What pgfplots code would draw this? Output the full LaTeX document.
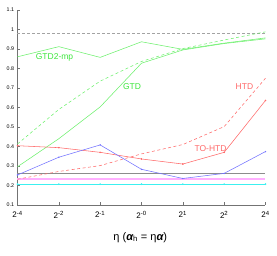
\documentclass[border=0pt]{standalone}
\usepackage{fontspec}
\setmainfont{Liberation Sans}
\usepackage{pgfplots}
\pgfplotsset{compat=1.18}
\definecolor{cgreen}{RGB}{110,240,110}
\definecolor{ctgreen}{RGB}{60,230,60}
\definecolor{cred}{RGB}{255,105,105}
\definecolor{cblue}{RGB}{115,115,255}
\definecolor{cpink}{RGB}{255,175,255}
\definecolor{ccyan}{RGB}{60,240,240}
\definecolor{cgrey}{RGB}{140,140,140}
\begin{document}
\begin{tikzpicture}
\path[use as bounding box] (-17.5pt,-51pt) rectangle (259.5pt,205pt);
\begin{axis}[
  at={(0,0)}, anchor=south west,
  scale only axis, width=248pt, height=195pt,
  xmin=0, xmax=6, ymin=0.1, ymax=1.1,
  axis x line*=bottom, axis y line*=left,
  axis line style={-, draw=gray!90!black, line width=0.5pt},
  tick align=inside,
  major tick length=2.5pt,
  tick style={gray!90!black, line width=0.4pt},
  xtick={0,1,2,3,4,5,6},
  xticklabels={2\textsuperscript{-4},2\textsuperscript{-2},2\textsuperscript{-1},2\textsuperscript{-0},2\textsuperscript{1},2\textsuperscript{2},2\textsuperscript{4}},
  xticklabel style={font=\fontsize{8}{9}\selectfont, yshift=-2.5pt},
  ytick={0.1,0.2,0.3,0.4,0.5,0.6,0.7,0.8,0.9,1,1.1},
  yticklabels={0.1,0.2,0.3,0.4,0.5,0.6,0.7,0.8,0.9,1,1.1},
  yticklabel style={font=\fontsize{5.3}{6}\selectfont, xshift=0pt},
  /pgf/number format/assume math mode=true,
  xlabel={η ({\bfseries\itshape α}$_{\mathrm{h}}$ = η{\bfseries\itshape α})},
  xlabel style={font=\fontsize{11}{12}\selectfont, at={(axis description cs:0.495,-0.165)}, anchor=center},
  clip=false,
  every axis plot/.append style={line width=0.55pt},
]
% reference lines
\addplot[cgrey!80, dashed, dash pattern=on 3pt off 2pt] coordinates {(0,0.98) (6,0.98)};
\addplot[cgrey] coordinates {(0,0.262) (6,0.262)};
\addplot[cpink, line width=1.6pt] coordinates {(0,0.233) (6,0.233)};
\addplot[ccyan, mark=*, mark size=0.5pt] coordinates {(0,0.207) (1,0.207) (2,0.207) (3,0.207) (4,0.207) (5,0.207) (6,0.207)};
% GTD2-mp
\addplot[cgreen] coordinates {(0,0.86) (1,0.912) (2,0.857) (3,0.937) (4,0.898) (5,0.93) (6,0.957)};
% GTD solid
\addplot[cgreen] coordinates {(0,0.296) (1,0.44) (2,0.603) (3,0.827) (4,0.895) (5,0.928) (6,0.952)};
% GTD dashed
\addplot[cgreen, dashed, dash pattern=on 3pt off 2.5pt] coordinates {(0,0.413) (1,0.59) (2,0.735) (3,0.836) (4,0.902) (5,0.946) (6,0.988)};
% HTD dashed
\addplot[cred, dashed, dash pattern=on 3pt off 2.5pt] coordinates {(0,0.232) (1,0.272) (2,0.302) (3,0.362) (4,0.41) (5,0.502) (6,0.75)};
% TO-HTD
\addplot[cred, mark=*, mark size=0.5pt] coordinates {(0,0.404) (1,0.394) (2,0.37) (3,0.336) (4,0.31) (5,0.37) (6,0.636)};
% blue
\addplot[cblue, mark=*, mark size=0.4pt] coordinates {(0,0.254) (1,0.345) (2,0.408) (3,0.283) (4,0.236) (5,0.262) (6,0.374)};
% labels
\node[text=ctgreen, font=\fontsize{8.5}{9}\selectfont] at (axis cs:0.895,0.857) {GTD2-mp};
\node[text=ctgreen, font=\fontsize{8.5}{9}\selectfont] at (axis cs:2.77,0.707) {GTD};
\node[text=cred, font=\fontsize{8.5}{9}\selectfont] at (axis cs:5.49,0.707) {HTD};
\node[text=cred, font=\fontsize{8.5}{9}\selectfont] at (axis cs:4.67,0.391) {TO-HTD};
\end{axis}
\end{tikzpicture}
\end{document}
